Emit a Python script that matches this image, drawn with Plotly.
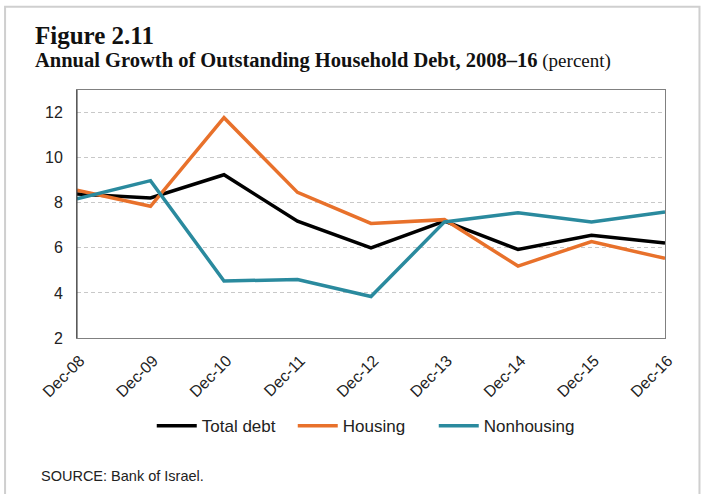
import plotly.graph_objects as go

# Annual growth of outstanding household debt (percent), December of each year
periods = ["Dec-08", "Dec-09", "Dec-10", "Dec-11", "Dec-12",
           "Dec-13", "Dec-14", "Dec-15", "Dec-16"]
total_debt = [8.39, 8.21, 9.24, 7.18, 6.00, 7.18, 5.93, 6.56, 6.21]
housing = [8.55, 7.84, 11.77, 8.46, 7.08, 7.25, 5.19, 6.28, 5.53]
nonhousing = [8.17, 8.98, 4.53, 4.59, 3.84, 7.15, 7.55, 7.15, 7.59]
y_ticks = [2, 4, 6, 8, 10, 12]

W, H = 703, 494
L, R, T, B = 76.5, 38, 89.5, 155.5
plot_w = W - L - R
plot_h = H - T - B


def px_x(x):
    return (x - L) / plot_w


def px_y(y):
    return (H - B - y) / plot_h


x_idx = list(range(len(periods)))
series = [
    ("Total debt", total_debt, "#000000"),
    ("Housing", housing, "#E8712B"),
    ("Nonhousing", nonhousing, "#2A8A9E"),
]

fig = go.Figure()
for name, vals, color in series:
    fig.add_trace(go.Scatter(
        x=x_idx, y=vals, name=name, mode="lines",
        line=dict(color=color, width=3.5),
    ))

sans = "Liberation Sans, Arial, sans-serif"
serif = "Liberation Serif, Times New Roman, serif"

fig.update_layout(
    width=W, height=H,
    margin=dict(l=L, r=R, t=T, b=B, pad=0),
    paper_bgcolor="white",
    plot_bgcolor="white",
    font=dict(family=sans, size=16, color="#222222"),
    showlegend=True,
    legend=dict(
        orientation="h", x=px_x(363), xanchor="center",
        y=px_y(427), yanchor="middle",
        font=dict(size=17, color="#222222"),
        itemwidth=40, tracegroupgap=0,
        entrywidth=86, entrywidthmode="pixels",
        bgcolor="rgba(0,0,0,0)",
    ),
    xaxis=dict(
        range=[0, len(periods) - 1],
        tickmode="array", tickvals=x_idx, ticktext=periods,
        tickangle=-45, showgrid=False, zeroline=False,
        showline=True, linecolor="#808080", linewidth=1,
        mirror=True, ticks="",
        ticklabelstandoff=6, ticklabelshift=3,
        tickfont=dict(size=16, color="#222222"),
    ),
    yaxis=dict(
        range=[2, 13], tickmode="array", tickvals=y_ticks,
        showgrid=True, gridcolor="#c8c8c8", griddash="4px,3px", gridwidth=1,
        zeroline=False, showline=True, linecolor="#808080", linewidth=1,
        mirror=True, ticks="", ticklabelstandoff=10,
        tickfont=dict(size=16, color="#222222"),
    ),
)

# left axis drawn darker than the rest of the frame
fig.add_shape(type="line", xref="paper", yref="paper",
              x0=0, x1=0, y0=0, y1=1,
              line=dict(color="#333333", width=1))

# light outer frame around the whole figure
fig.add_shape(type="rect", xref="paper", yref="paper",
              x0=px_x(4.5), x1=px_x(699.5), y0=px_y(520), y1=px_y(6),
              line=dict(color="#cfcfcf", width=2), layer="below")

fig.add_annotation(
    text="<b>Figure 2.11</b>", xref="paper", yref="paper",
    x=px_x(32), y=px_y(35), xanchor="left", yanchor="middle",
    showarrow=False, font=dict(family=serif, size=25, color="#111111"),
)
fig.add_annotation(
    text="<b>Annual Growth of Outstanding Household Debt, 2008\u201316</b>"
         "<span style='font-size:19px'> (percent)</span>",
    xref="paper", yref="paper",
    x=px_x(32), y=px_y(60), xanchor="left", yanchor="middle",
    showarrow=False, font=dict(family=serif, size=20.5, color="#111111"),
)
fig.add_annotation(
    text="SOURCE: Bank of Israel.", xref="paper", yref="paper",
    x=px_x(38), y=px_y(477), xanchor="left", yanchor="middle",
    showarrow=False, font=dict(family=sans, size=14.5, color="#222222"),
)

fig.write_html("out.html")
